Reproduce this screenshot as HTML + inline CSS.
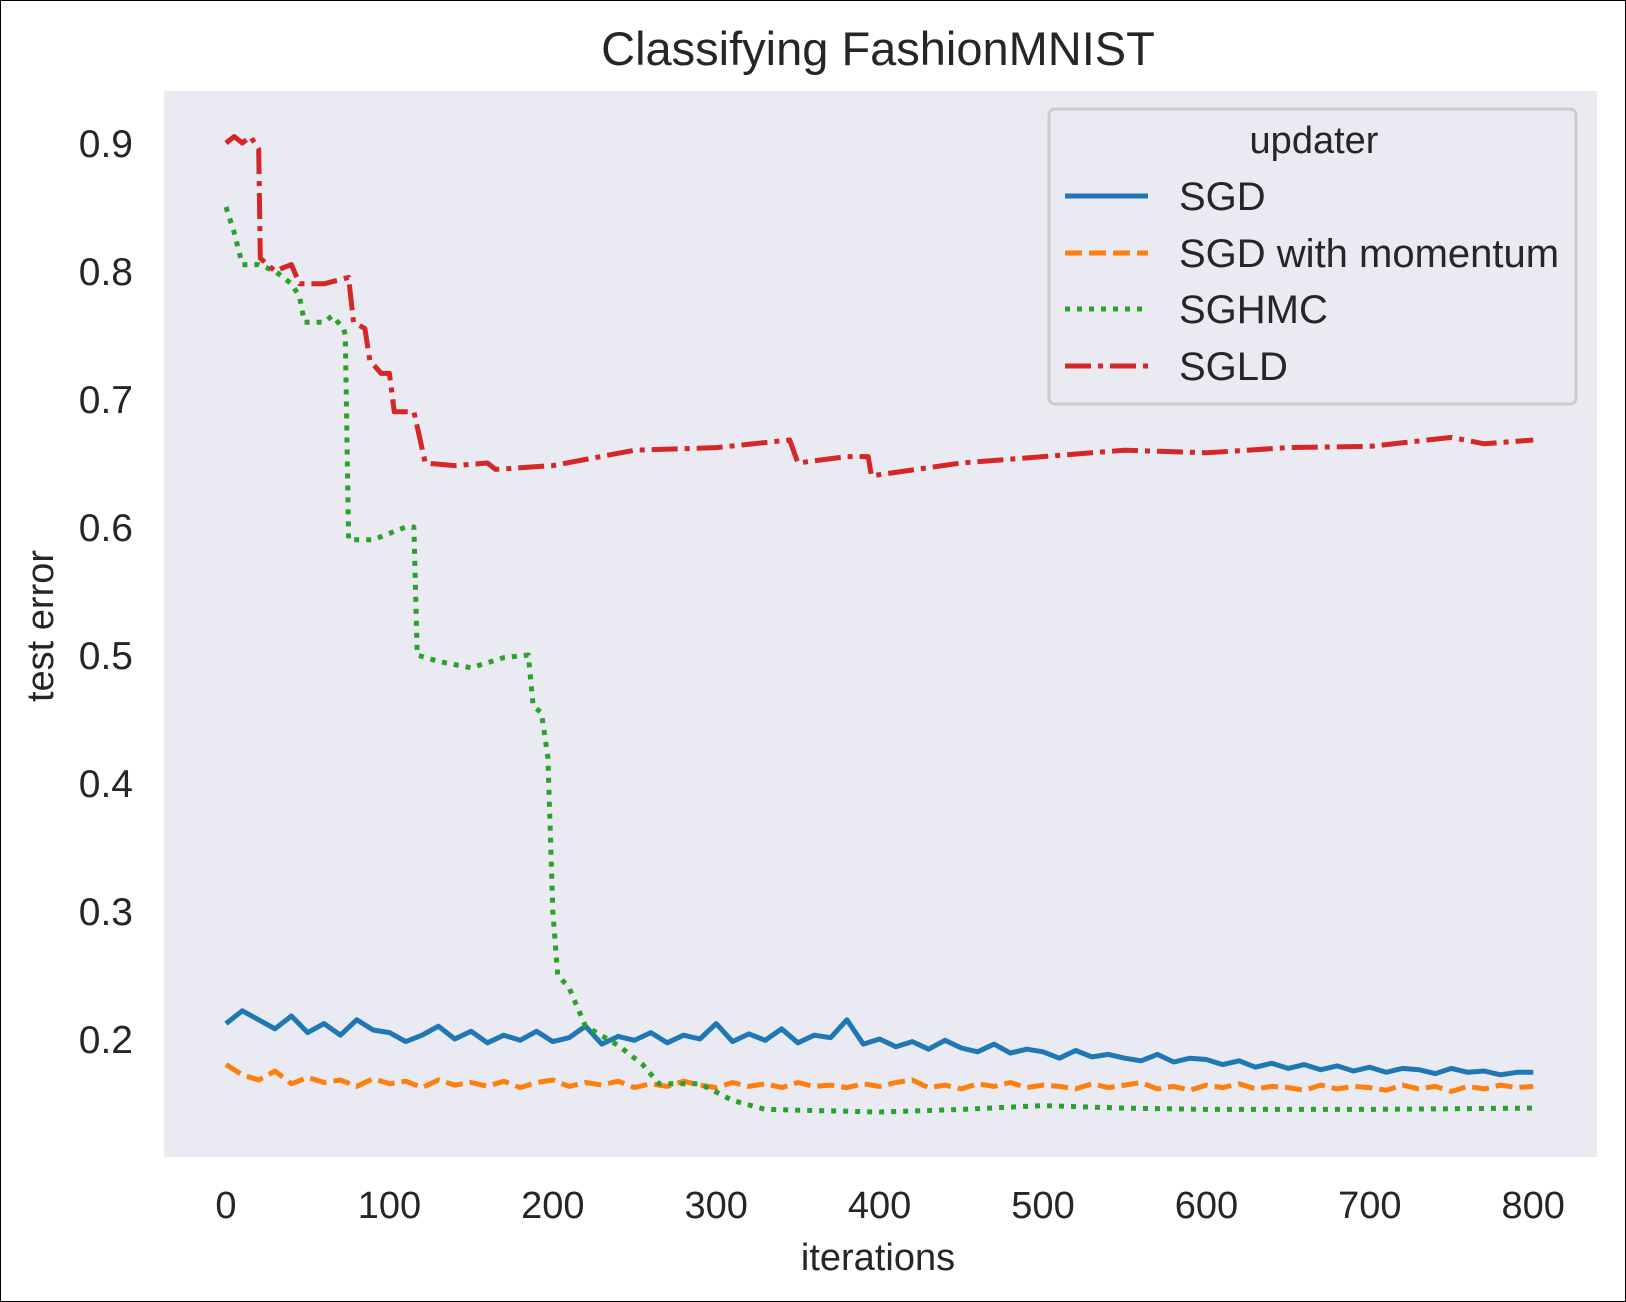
<!DOCTYPE html>
<html><head><meta charset="utf-8"><style>
html,body{margin:0;padding:0;background:#fff;}
svg{display:block;font-family:"Liberation Sans",Arial,sans-serif;}
</style></head><body>
<svg id="chart" width="1626" height="1302" viewBox="0 0 1626 1302" xmlns="http://www.w3.org/2000/svg">
<rect x="0.5" y="0.5" width="1625" height="1301" fill="#fff" stroke="#000" stroke-width="1"/>
<rect x="164" y="91" width="1433" height="1066" fill="#eaeaf2"/>
<text x="878" y="65" font-size="47" fill="#262626" text-anchor="middle">Classifying FashionMNIST</text>
<text x="878" y="1270" font-size="38" fill="#262626" text-anchor="middle">iterations</text>
<text transform="translate(53,626) rotate(-90)" font-size="38" fill="#262626" text-anchor="middle">test error</text>
<g id="xticks"></g>
<g id="yticks"></g>
<g id="series"></g>
<g>
<rect x="1049" y="109" width="527" height="295" rx="6" fill="#eaeaf2" fill-opacity="0.85" stroke="#cccccc" stroke-width="3"/>
<text x="1314" y="153" font-size="38" fill="#262626" text-anchor="middle">updater</text>
<line x1="1065" y1="196" x2="1148" y2="196" stroke="#1f77b4" stroke-width="5"/>
<text x="1179" y="210" font-size="40" fill="#262626">SGD</text>
<line x1="1065" y1="253" x2="1148" y2="253" stroke="#ff7f0e" stroke-width="5" stroke-dasharray="17,7"/>
<text x="1179" y="267" font-size="40" fill="#262626">SGD with momentum</text>
<line x1="1065" y1="309" x2="1148" y2="309" stroke="#2ca02c" stroke-width="5" stroke-dasharray="5,7"/>
<text x="1179" y="323" font-size="40" fill="#262626">SGHMC</text>
<line x1="1065" y1="366" x2="1148" y2="366" stroke="#d62728" stroke-width="5" stroke-dasharray="26,7,5,7"/>
<text x="1179" y="380" font-size="40" fill="#262626">SGLD</text>
</g>
</svg>
<script>
const xTicks = [0,100,200,300,400,500,600,700,800];
const yTicks = [0.2,0.3,0.4,0.5,0.6,0.7,0.8,0.9];
const sgdValues = [0.212,0.222,0.215,0.208,0.218,0.205,0.212,0.203,0.215,0.207,0.205,0.198,0.203,0.210,0.200,0.206,0.197,0.203,0.199,0.206,0.198,0.201,0.210,0.196,0.202,0.199,0.205,0.197,0.203,0.200,0.212,0.198,0.204,0.199,0.208,0.197,0.203,0.201,0.215,0.196,0.200,0.194,0.198,0.192,0.199,0.193,0.190,0.196,0.189,0.192,0.190,0.185,0.191,0.186,0.188,0.185,0.183,0.188,0.182,0.185,0.184,0.180,0.183,0.178,0.181,0.177,0.180,0.176,0.179,0.175,0.178,0.174,0.177,0.176,0.173,0.177,0.174,0.175,0.172,0.174,0.174];
const momentumValues = [0.180,0.172,0.168,0.175,0.165,0.170,0.166,0.168,0.163,0.169,0.165,0.167,0.162,0.168,0.164,0.166,0.163,0.167,0.162,0.166,0.168,0.163,0.166,0.164,0.167,0.162,0.165,0.163,0.167,0.164,0.162,0.166,0.163,0.165,0.162,0.166,0.163,0.164,0.162,0.165,0.163,0.166,0.168,0.162,0.164,0.161,0.165,0.163,0.166,0.162,0.164,0.163,0.161,0.165,0.162,0.164,0.166,0.161,0.163,0.160,0.164,0.162,0.165,0.161,0.163,0.162,0.160,0.164,0.161,0.163,0.162,0.160,0.164,0.161,0.163,0.159,0.163,0.161,0.164,0.162,0.163];
const sghmcIters = [0,5,10,20,30,40,45,48,60,65,72,73,75,90,100,110,115,117,130,150,170,185,188,193,197,200,203,210,220,240,255,265,290,310,330,400,450,500,550,600,700,800];
const sghmcValues = [0.85,0.83,0.805,0.805,0.80,0.79,0.78,0.76,0.76,0.765,0.755,0.75,0.59,0.59,0.595,0.60,0.60,0.50,0.495,0.49,0.498,0.50,0.46,0.455,0.42,0.30,0.25,0.24,0.21,0.195,0.18,0.165,0.165,0.152,0.145,0.143,0.145,0.148,0.146,0.145,0.145,0.146];
const sgldIters = [0,5,10,15,20,21,30,40,45,60,75,78,85,88,95,100,103,115,122,140,160,165,200,250,300,345,350,380,393,395,450,500,550,600,650,700,750,770,800];
const sgldValues = [0.90,0.905,0.90,0.905,0.895,0.81,0.80,0.805,0.79,0.79,0.795,0.76,0.755,0.73,0.72,0.72,0.69,0.69,0.65,0.648,0.65,0.645,0.648,0.66,0.662,0.668,0.65,0.655,0.655,0.64,0.65,0.655,0.66,0.658,0.662,0.663,0.67,0.665,0.668];

const NS='http://www.w3.org/2000/svg';
function xScale(v){return 226 + (v/100)*163.4;}
function yScale(v){return 143 + (0.9 - v)*1280;}
const xg=document.getElementById('xticks'), yg=document.getElementById('yticks'), sg=document.getElementById('series');
xTicks.forEach(t=>{
  const el=document.createElementNS(NS,'text');
  el.setAttribute('x',xScale(t));el.setAttribute('y',1218);
  el.setAttribute('font-size','38');el.setAttribute('fill','#262626');el.setAttribute('text-anchor','middle');
  
  
  el.textContent=t;xg.appendChild(el);
});
yTicks.forEach(t=>{
  const el=document.createElementNS(NS,'text');
  el.setAttribute('x',133);el.setAttribute('y',yScale(t)+14);
  el.setAttribute('font-size','39');el.setAttribute('fill','#262626');el.setAttribute('text-anchor','end');
  
  
  el.textContent=t.toFixed(1);yg.appendChild(el);
});
function drawLine(xs,ys,color,dash,name){
  const p=document.createElementNS(NS,'path');
  let d='';
  for(let i=0;i<ys.length;i++){d+=(i?'L':'M')+xScale(xs[i]).toFixed(1)+','+yScale(ys[i]).toFixed(1);}
  p.setAttribute('d',d);p.setAttribute('fill','none');p.setAttribute('stroke',color);
  p.setAttribute('stroke-width','5');p.setAttribute('stroke-linejoin','round');
  if(dash)p.setAttribute('stroke-dasharray',dash);
  
  
  sg.appendChild(p);
}
const sgdIters=sgdValues.map((v,i)=>i*800/(sgdValues.length-1));
const momIters=momentumValues.map((v,i)=>i*800/(momentumValues.length-1));
drawLine(sgdIters,sgdValues,'#1f77b4',null,'line-sgd');
drawLine(momIters,momentumValues,'#ff7f0e','17,7','line-sgd-momentum');
drawLine(sghmcIters,sghmcValues,'#2ca02c','5,7','line-sghmc');
drawLine(sgldIters,sgldValues,'#d62728','26,7,5,7','line-sgld');
</script>
</body></html>
